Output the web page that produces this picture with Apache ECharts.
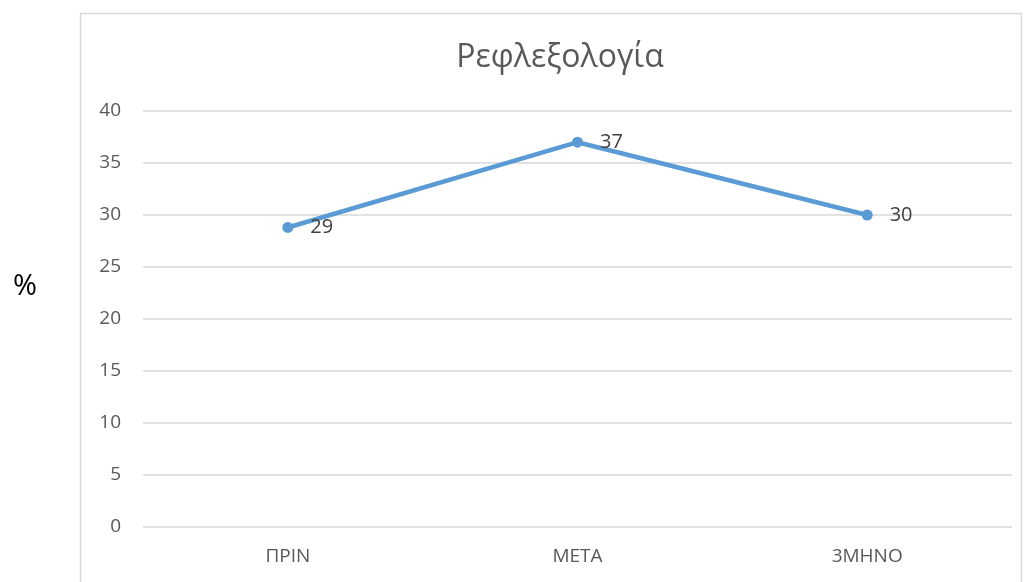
<!DOCTYPE html>
<html><head><meta charset="utf-8">
<script src="https://cdn.jsdelivr.net/npm/echarts@6/dist/echarts.min.js"></script>
<style>html,body{margin:0;padding:0;background:#fff}#c{width:1029px;height:582px}</style>
</head><body><div id="c"></div>
<script>
var categories = ['ΠΡΙΝ', 'ΜΕΤΑ', '3ΜΗΝΟ'];
var values = [28.8, 37, 30];
var yTicks = {min: 0, max: 40, interval: 5};
var titleText = 'Ρεφλεξολογία';
var yUnit = '%';

var chart = echarts.init(document.getElementById('c'));
chart.setOption({
  backgroundColor: '#fff',
  animation: false,
  graphic: [
    {type: 'rect', shape: {x: 80.5, y: 13.5, width: 941, height: 600}, style: {fill: 'none', stroke: '#d9d9d9', lineWidth: 1.5}, z: -1},
    {type: 'text', x: 560, y: 58, style: {text: titleText, font: '32px "Open Sans"', fill: '#595959', align: 'center', verticalAlign: 'middle'}},
    {type: 'text', x: 25, y: 287, style: {text: yUnit, font: '29px "Open Sans"', fill: '#000', align: 'center', verticalAlign: 'middle'}}
  ],
  grid: {left: 143, right: 17, top: 111, bottom: 55},
  xAxis: {type: 'category', data: categories, boundaryGap: true,
    axisLine: {show: false}, axisTick: {show: false},
    axisLabel: {color: '#595959', fontFamily: 'Open Sans', fontSize: 19, margin: 20}},
  yAxis: {type: 'value', min: yTicks.min, max: yTicks.max, interval: yTicks.interval,
    axisLine: {show: false}, axisTick: {show: false},
    axisLabel: {color: '#595959', fontFamily: 'Open Sans', fontSize: 19, margin: 22},
    splitLine: {lineStyle: {color: '#d9d9d9', width: 1.5}}},
  series: [{type: 'line', data: values, symbol: 'circle', symbolSize: 11,
    lineStyle: {color: '#5B9BD5', width: 4.5}, itemStyle: {color: '#5B9BD5'},
    label: {show: true, position: 'right', distance: 17, color: '#404040', fontFamily: 'Open Sans', fontSize: 20,
      formatter: function(p){ return Math.round(p.value); }}}]
});
</script></body></html>
